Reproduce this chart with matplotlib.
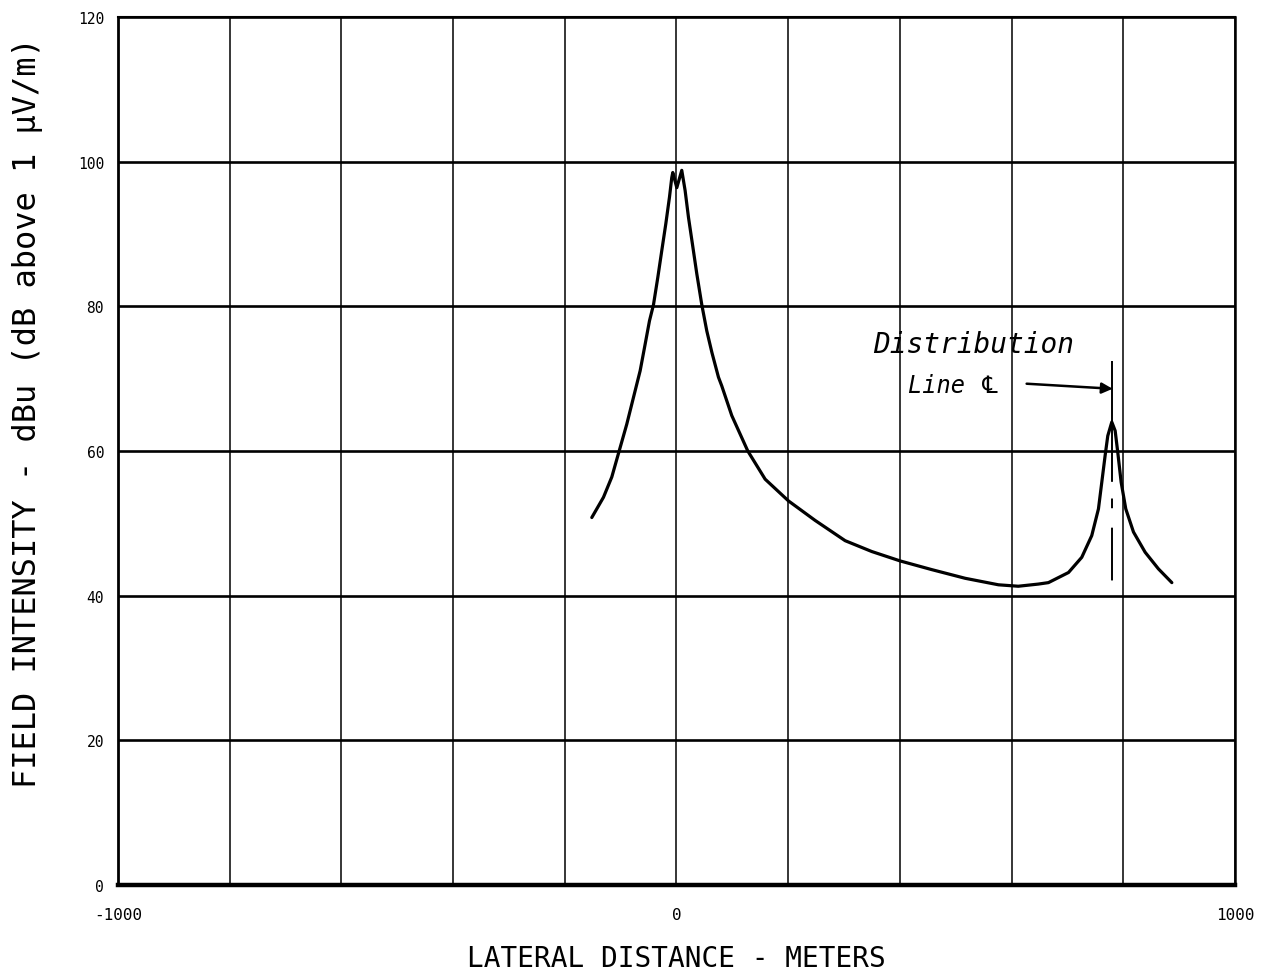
import matplotlib
matplotlib.use("Agg")
import matplotlib.pyplot as plt

plt.rcParams['font.family'] = ['DejaVu Sans Mono', 'DejaVu Sans']
plt.rcParams['lines.scale_dashes'] = False

# field intensity profile (lateral distance in m, dBu)
distance = [-151.6, -130.7, -115.8, -102.6, -89, -77, -65, -56, -48.3, -41.2,
            -33.4, -26.3, -19.1, -12.5, -8.4, -6.6, 0.6, 9.5, 15.5, 21.5,
            28.6, 36.4, 45.4, 54.3, 63.5, 75.2, 81.1, 99, 127.7, 158.8,
            200.5, 248.3, 302, 349.7, 400.5, 457, 516.9, 576.5, 612, 648,
            666, 684, 702, 725.7, 743.6, 755.6, 761.6, 767.6, 772.3, 779.5,
            785.5, 790.2, 796.2, 804.5, 818.3, 839.2, 863, 887]
field_dbu = [50.8, 53.6, 56.4, 60.0, 63.7, 67.4, 71.1, 74.8, 78.0, 80.2,
             84.0, 87.7, 91.4, 95.1, 97.8, 98.5, 96.4, 98.8, 96.0, 92.3,
             88.6, 84.5, 80.2, 76.6, 73.6, 70.2, 69.0, 64.9, 60.0, 56.1,
             53.1, 50.4, 47.6, 46.1, 44.8, 43.6, 42.4, 41.5, 41.3, 41.6,
             41.8, 42.5, 43.2, 45.3, 48.3, 52.0, 55.7, 59.4, 62.1, 64.0,
             62.8, 59.8, 55.7, 52.0, 48.8, 46.0, 43.7, 41.8]

# distribution line centre marker
line_x = [780, 780]
line_y = [72.5, 41.8]
arrow_start = (627, 69.3)
arrow_end = (781, 68.6)

x_ticks = list(range(-1000, 1001, 200))
x_tick_labels = ['-1000', '', '', '', '', '0', '', '', '', '', '1000']
y_ticks = list(range(0, 121, 20))

fig = plt.figure(figsize=(12.7, 9.78), dpi=100)
ax = fig.add_axes([0.0929, 0.0941, 0.8795, 0.8875])

ax.plot(distance, field_dbu, color='black', lw=2.3, solid_capstyle='round',
        solid_joinstyle='round', zorder=3)
ax.plot(line_x, line_y, color='black', lw=1.4, linestyle=(0, (87, 12, 7, 14, 38, 100)), zorder=3)
ax.annotate('', xy=arrow_end, xytext=arrow_start,
            arrowprops=dict(arrowstyle='-|>', color='black', lw=1.8,
                            mutation_scale=16, shrinkA=0, shrinkB=0))
ax.text(352, 73.7, 'Distribution', fontsize=20, style='italic', ha='left', va='baseline')
ax.text(415, 68.2, 'Line \u2104', fontsize=17, style='italic', ha='left', va='baseline')

ax.set_xlim(-1000, 1000)
ax.set_ylim(0, 120)
ax.set_xticks(x_ticks, labels=x_tick_labels)
ax.set_yticks(y_ticks)
ax.tick_params(axis='x', length=0, pad=16, labelsize=11.5)
ax.tick_params(axis='y', length=0, pad=10, labelsize=10.5)
ax.xaxis.grid(True, color='black', lw=1.1)
ax.yaxis.grid(True, color='black', lw=1.9)
ax.set_axisbelow(True)

for side, w in [('bottom', 3.2), ('left', 2.0), ('top', 1.5), ('right', 1.8)]:
    ax.spines[side].set_linewidth(w)

ax.set_xlabel('LATERAL DISTANCE - METERS', fontsize=20, labelpad=16)
ax.set_ylabel('FIELD INTENSITY - dBu (dB above 1 \u03bcV/m)', fontsize=23)
ax.yaxis.set_label_coords(-0.067, 0.545)

fig.savefig('out.png', dpi=100)
